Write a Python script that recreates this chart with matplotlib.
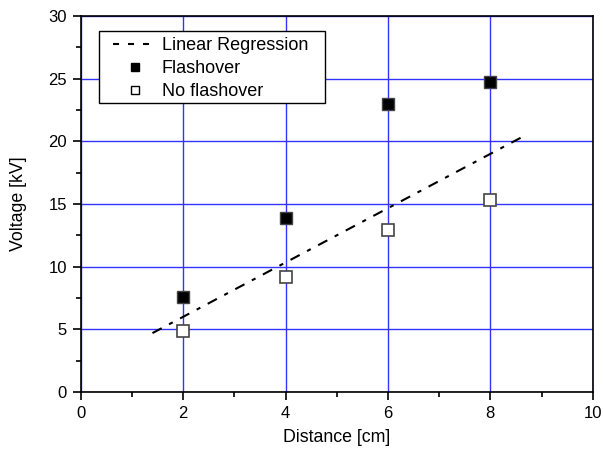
import matplotlib
matplotlib.use("Agg")
import matplotlib.pyplot as plt
from matplotlib.lines import Line2D
from matplotlib.patches import Rectangle
from matplotlib.ticker import MultipleLocator

plt.rcParams['font.family'] = ['Liberation Sans', 'DejaVu Sans']

distance = [2, 4, 6, 8]
flashover = [7.6, 13.9, 23.0, 24.7]
no_flashover = [4.9, 9.2, 12.9, 15.3]
reg_x = [1.4, 8.6]
reg_y = [4.7, 20.3]

fig = plt.figure(figsize=(6.03, 4.53), dpi=100)
ax = fig.add_axes([0.134, 0.1347, 0.849, 0.83])

ax.grid(True, which='major', color='#3333ff', linewidth=1.0)
ax.set_axisbelow(True)

ax.plot(reg_x, reg_y, color='black', linewidth=1.5, dashes=[5, 4, 2, 4], zorder=3)
ax.plot(distance, flashover, linestyle='none', marker='s', markersize=8.5,
        markerfacecolor='black', markeredgecolor='#444444', markeredgewidth=1, zorder=4)
ax.plot(distance, no_flashover, linestyle='none', marker='s', markersize=8.5,
        markerfacecolor='white', markeredgecolor='#444444', markeredgewidth=1.2, zorder=4)

ax.set_xlim(0, 10)
ax.set_ylim(0, 30)
ax.xaxis.set_major_locator(MultipleLocator(2))
ax.xaxis.set_minor_locator(MultipleLocator(1))
ax.yaxis.set_major_locator(MultipleLocator(5))
ax.yaxis.set_minor_locator(MultipleLocator(2.5))
ax.tick_params(which='major', direction='out', length=6, width=1.2, pad=4, labelsize=12, top=False, right=False)
ax.tick_params(which='minor', direction='out', length=3.5, width=1.2, top=False, right=False)
for s in ax.spines.values():
    s.set_linewidth(1.2)

ax.set_xlabel('Distance [cm]', fontsize=12.8, labelpad=6)
ax.set_ylabel('Voltage [kV]', fontsize=12.8, labelpad=15)

# legend frame
frame = Rectangle((0.0352, 0.7686), 0.4414, 0.1914, transform=ax.transAxes,
                  facecolor='white', edgecolor='black', linewidth=1.0, zorder=5)
ax.add_patch(frame)

handles = [
    Line2D([], [], color='black', linewidth=1.5, linestyle=(0, (2.9, 4.3))),
    Line2D([], [], linestyle='none', marker='s', markersize=6, markerfacecolor='black', markeredgecolor='black'),
    Line2D([], [], linestyle='none', marker='s', markersize=6, markerfacecolor='white', markeredgecolor='black'),
]
leg = ax.legend(handles, ['Linear Regression', 'Flashover', 'No flashover'],
                loc='upper left', bbox_to_anchor=(0.0625, 0.943), borderaxespad=0, borderpad=0,
                fontsize=13, frameon=False, handlelength=2.5,
                labelspacing=0.33, handletextpad=0.2)
leg.set_zorder(6)

fig.savefig('out.png', dpi=100)
